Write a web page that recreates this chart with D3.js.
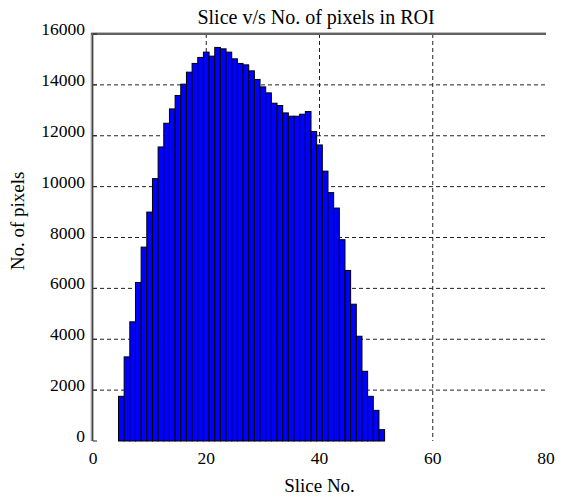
<!DOCTYPE html>
<html><head><meta charset="utf-8">
<script src="https://cdn.jsdelivr.net/npm/d3@7"></script>
<style>body{margin:0;background:#fff}</style>
</head><body><svg id="c" width="564" height="500"></svg>
<script>
const slices = [5,6,7,8,9,10,11,12,13,14,15,16,17,18,19,20,21,22,23,24,25,26,27,28,29,30,31,32,33,34,35,36,37,38,39,40,41,42,43,44,45,46,47,48,49,50,51];
const pixels = [1756,3307,4685,6232,7622,9000,10315,11559,12492,13055,13583,14028,14500,14843,15079,15287,15130,15472,15417,15287,15024,14843,14787,14551,14213,13921,13685,13280,13189,12898,12768,12768,12846,12953,12165,11638,10608,9764,9157,7913,6705,5378,4118,2740,1756,1205,445];
const xTicks = [0,20,40,60,80];
const yTicks = [0,2000,4000,6000,8000,10000,12000,14000,16000];
const title = "Slice v/s No. of pixels in ROI";
const xLabel = "Slice No.";
const yLabel = "No. of pixels";

const svg = d3.select("#c");
const L=93, R=546, T=34, B=441;
const x = d3.scaleLinear().domain([0,80]).range([L,R]);
const y = d3.scaleLinear().domain([0,16000]).range([B,T]);
const font = "'Liberation Serif','Times New Roman',serif";

// grid
const g = svg.append("g");
g.selectAll(".vg").data(xTicks.filter(d=>d>0&&d<80)).join("line")
 .attr("x1",d=>x(d)).attr("x2",d=>x(d)).attr("y1",T).attr("y2",B)
 .attr("stroke","#222").attr("stroke-width",1).attr("stroke-dasharray","4,3");
g.selectAll(".hg").data(yTicks.filter(d=>d>0&&d<16000)).join("line")
 .attr("y1",d=>y(d)).attr("y2",d=>y(d)).attr("x1",L).attr("x2",R)
 .attr("stroke","#222").attr("stroke-width",1).attr("stroke-dasharray","4,3");

// bars
svg.append("g").selectAll("rect").data(slices).join("rect")
 .attr("x",(d)=>x(d-0.5)).attr("width",(d)=>x(d+0.5)-x(d-0.5))
 .attr("y",(d,i)=>y(pixels[i])).attr("height",(d,i)=>B-y(pixels[i]))
 .attr("fill","#0000ff").attr("stroke","#000").attr("stroke-width",1);

// spines
svg.append("line").attr("x1",L-1).attr("x2",L-1).attr("y1",T-1).attr("y2",B)
 .attr("stroke","#bbb").attr("stroke-width",3);
svg.append("line").attr("x1",L-0.5).attr("x2",L-0.5).attr("y1",T-1).attr("y2",B)
 .attr("stroke","#444").attr("stroke-width",1.5);
svg.append("line").attr("x1",L-2).attr("x2",R).attr("y1",T-0.5).attr("y2",T-0.5)
 .attr("stroke","#bbb").attr("stroke-width",3);
svg.append("line").attr("x1",L-2).attr("x2",R).attr("y1",T).attr("y2",T)
 .attr("stroke","#444").attr("stroke-width",1.5);

// y ticks
svg.selectAll(".yt").data(yTicks).join("line")
 .attr("x1",L).attr("x2",L+4).attr("y1",d=>y(d)).attr("y2",d=>y(d))
 .attr("stroke","#222").attr("stroke-width",1);

// tick labels
svg.selectAll(".yl").data(yTicks).join("text")
 .attr("x",L-8).attr("y",d=>y(d)+1).attr("text-anchor","end")
 .attr("font-family",font).attr("font-size",17.5).attr("fill","#000").text(d=>d);
svg.selectAll(".xl").data(xTicks).join("text")
 .attr("x",d=>x(d)).attr("y",464).attr("text-anchor","middle")
 .attr("font-family",font).attr("font-size",17.5).attr("fill","#000").text(d=>d);

svg.append("text").attr("x",316).attr("y",24).attr("text-anchor","middle")
 .attr("font-family",font).attr("font-size",20).text(title);
svg.append("text").attr("x",(L+R)/2).attr("y",492).attr("text-anchor","middle")
 .attr("font-family",font).attr("font-size",19).text(xLabel);
svg.append("text").attr("transform",`translate(24,221) rotate(-90)`).attr("text-anchor","middle")
 .attr("font-family",font).attr("font-size",19).text(yLabel);
</script></body></html>
